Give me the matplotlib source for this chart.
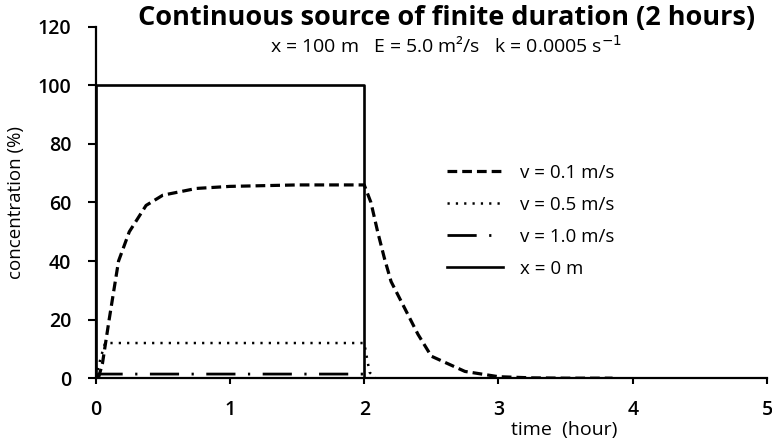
import numpy as np
import matplotlib
matplotlib.use("Agg")
import matplotlib.pyplot as plt

# data
t_v01 = [0.02, 0.05, 0.1, 0.17, 0.25, 0.375, 0.5, 0.75, 1.0, 1.5, 2.0,
         2.05, 2.1, 2.15, 2.2, 2.3, 2.4, 2.5, 2.75, 3.0, 3.25, 3.5, 3.85]
c_v01 = [0, 5, 20, 40, 50, 59, 62.5, 64.8, 65.5, 66, 66,
         60, 50, 41, 33, 24, 15, 7.5, 2.3, 0.5, 0.1, 0, 0]

t_v05 = [0, 0.02, 0.05, 0.07, 2.0, 2.02, 2.04, 2.08]
c_v05 = [0, 4, 9, 12, 12, 7, 2, 0]

t_v10 = [0, 0.02, 2.0, 2.03, 2.08]
c_v10 = [0, 1.4, 1.4, 1.0, 0]

t_x0 = [0, 0, 2, 2, 5]
c_x0 = [0, 100, 100, 0, 0]

labels = ['v = 0.1 m/s', 'v = 0.5 m/s', 'v = 1.0 m/s', 'x = 0 m']

plt.rcParams['font.family'] = ['Open Sans', 'DejaVu Sans']
plt.rcParams['lines.scale_dashes'] = False

fig = plt.figure(figsize=(7.72, 4.47), dpi=100)
ax = fig.add_axes([0.124, 0.154, 0.8695, 0.786])

ax.plot(t_v01, c_v01, color='black', lw=2.3, dashes=(7, 3.6), label=labels[0])
ax.plot(t_v05, c_v05, color='black', lw=1.8, dashes=(1.6, 4.4), label=labels[1])
ax.plot(t_v10, c_v10, color='black', lw=2.0, dashes=(21, 9, 1.6, 9), label=labels[2])
ax.plot(t_x0, c_x0, color='black', lw=1.9, label=labels[3])

ax.set_xlim(0, 5)
ax.set_ylim(0, 120)
ax.set_xticks(range(0, 6))
ax.set_yticks(range(0, 121, 20))
for s in ['top', 'right']:
    ax.spines[s].set_visible(False)
for s in ['left', 'bottom']:
    ax.spines[s].set_linewidth(1.6)
ax.tick_params(direction='out', width=1.5, labelsize=14)
ax.tick_params(axis='y', length=5.5, pad=12)
ax.tick_params(axis='x', length=4, pad=12)
for lab in ax.get_xticklabels() + ax.get_yticklabels():
    lab.set_fontweight('semibold')

ax.set_ylabel('concentration (%)', fontsize=13.5, labelpad=9)
fig.text(0.731, 0.038, 'time  (hour)', fontsize=14, ha='center', va='center')

fig.text(0.578, 0.944, 'Continuous source of finite duration (2 hours)',
         fontsize=19.5, fontweight='bold', ha='center', va='baseline')
fig.text(0.578, 0.881, 'x = 100 m   E = 5.0 m²/s   k = 0.0005 s$^{-1}$',
         fontsize=14, ha='center', va='baseline')

ax.legend(loc='center left', bbox_to_anchor=(0.523, 0.448), frameon=False,
          fontsize=13.5, borderpad=0, borderaxespad=0, handlelength=3.0,
          handletextpad=0.9, labelspacing=0.75)

fig.savefig('out.png', dpi=100)
